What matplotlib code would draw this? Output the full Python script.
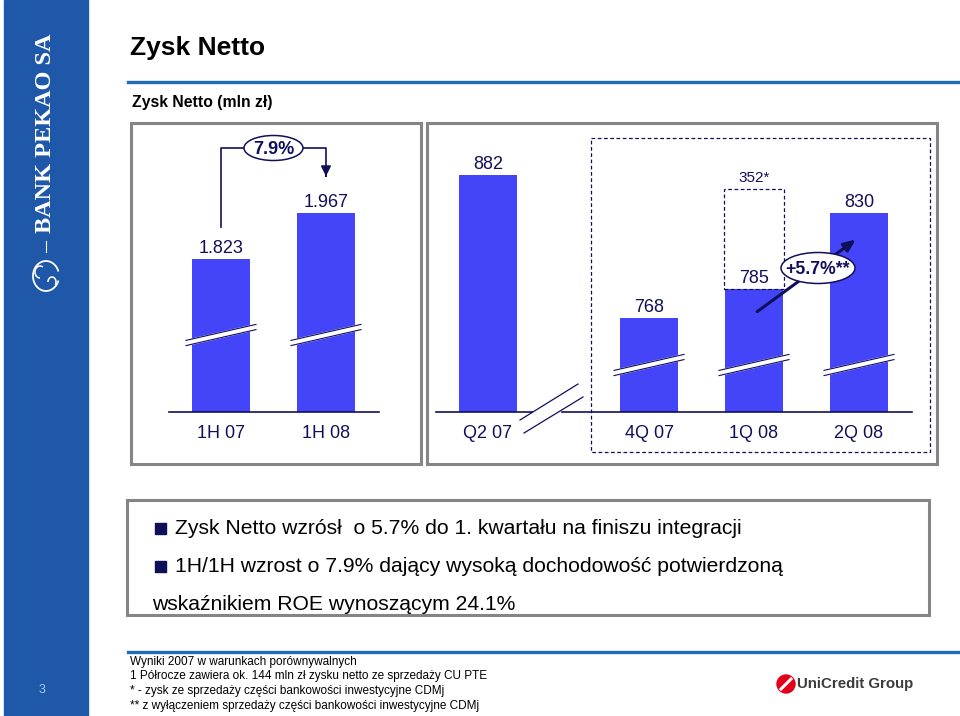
import matplotlib
matplotlib.use("Agg")
import matplotlib.pyplot as plt
from matplotlib.patches import Rectangle, Ellipse, Polygon, Circle, Arc

plt.rcParams['font.family'] = ['Liberation Sans', 'DejaVu Sans']

W, H = 960, 716

# --- dane (mln zł) ---
half_labels = ['1H 07', '1H 08']
half_values = [1823, 1967]
half_text = ['1.823', '1.967']
half_growth = '7.9%'

q2_labels = ['Q2 07']
q2_values = [882]
q2_text = ['882']

q_labels = ['4Q 07', '1Q 08', '2Q 08']
q_values = [768, 785, 830]
q_text = ['768', '785', '830']
cdmj_text = '352*'
cdmj_top = 844      # gorna krawedz przerywanego prostokata (w skali wykresu)
q_growth = '+5.7%**'

bullets = ['Zysk Netto wzrósł  o 5.7% do 1. kwartału na finiszu integracji',
           '1H/1H wzrost o 7.9% dający wysoką dochodowość potwierdzoną']
bullet_tail = 'wskaźnikiem ROE wynoszącym 24.1%'
footnotes = ['Wyniki 2007 w warunkach porównywalnych',
             '1 Półrocze zawiera ok. 144 mln zł zysku netto ze sprzedaży CU PTE',
             '* - zysk ze sprzedaży części bankowości inwestycyjne CDMj',
             '** z wyłączeniem sprzedaży części bankowości inwestycyjne CDMj']

BAR = '#4444F8'
NAVY = '#10105a'
FRAME = '#858585'
SIDE = '#1f58a8'
LINE = '#1f6db5'

fig = plt.figure(figsize=(W / 100, H / 100), dpi=100)


def px_layer():
    ax = fig.add_axes([0, 0, 1, 1])
    ax.set_xlim(0, W)
    ax.set_ylim(H, 0)
    ax.axis('off')
    ax.patch.set_alpha(0)
    return ax


def bar_axes(x0, x1, xlim, ylim):
    base, top = 412, 130
    ax = fig.add_axes([x0 / W, 1 - base / H, (x1 - x0) / W, (base - top) / H])
    ax.set_xlim(xlim)
    ax.set_ylim(ylim)
    ax.patch.set_alpha(0)
    for s in ['top', 'right', 'left']:
        ax.spines[s].set_visible(False)
    ax.spines['bottom'].set_color(NAVY)
    ax.spines['bottom'].set_linewidth(1.2)
    ax.set_yticks([])
    ax.tick_params(axis='x', length=0, pad=9, labelsize=13, labelcolor=NAVY)
    return ax


def value_labels(ax, xs, vals, texts):
    for x, v, t in zip(xs, vals, texts):
        ax.annotate(t, (x, v), xytext=(0, 4.5), textcoords='offset points',
                    ha='center', va='baseline', fontsize=13, color=NAVY)


bg = px_layer()

# pasek boczny
bg.add_patch(Rectangle((4, 0), 84, 716, color=SIDE))
bg.text(46, 133, 'BANK PEKAO SA', rotation=90, ha='center', va='center',
        color='white', fontsize=17.5, fontweight='bold', family='Liberation Serif')
bg.plot([46, 46], [241, 252], color='white', lw=0.8)
bg.add_patch(Arc((46, 276), 26, 30, theta1=20, theta2=340, color='white', lw=1.3))
bg.add_patch(Arc((40, 272), 10, 12, theta1=90, theta2=300, color='white', lw=1.1))
bg.add_patch(Arc((52, 282), 8, 10, theta1=180, theta2=400, color='white', lw=1.1))
bg.text(42, 690, '3', ha='center', va='center', color='#a9c9f2', fontsize=9)

# naglowki
bg.text(130, 48, 'Zysk Netto', fontsize=19, fontweight='bold', va='center')
bg.plot([128, 960], [82, 82], color=LINE, lw=2.4)
bg.text(132, 103, 'Zysk Netto (mln zł)', fontsize=11.3, fontweight='bold', va='center')

# ramki
bg.add_patch(Rectangle((131, 123), 290, 341, fill=False, ec=FRAME, lw=2.2))
bg.add_patch(Rectangle((427, 123), 510, 341, fill=False, ec=FRAME, lw=2.2))
bg.add_patch(Rectangle((591, 138), 339, 314, fill=False, ec=NAVY, lw=0.9, ls=(0, (3, 2))))
bg.add_patch(Rectangle((127, 500), 802, 115, fill=False, ec=FRAME, lw=2.2))

# wykres polroczny
ax_h = bar_axes(169, 379, (-0.495, 1.505), (1344, 2227))
xh = range(len(half_values))
ax_h.bar(xh, half_values, width=0.552, color=BAR)
ax_h.set_xticks(list(xh), half_labels)
value_labels(ax_h, xh, half_values, half_text)

# Q2 07
ax_q2 = bar_axes(436, 532, (-0.495, 0.419), (742, 908.5))
ax_q2.bar([0], q2_values, width=0.552, color=BAR)
ax_q2.set_xticks([0], q2_labels)
value_labels(ax_q2, [0], q2_values, q2_text)

# kwartaly
ax_q = bar_axes(562, 912, (-0.829, 2.505), (712.5, 879))
xq = range(len(q_values))
ax_q.bar(xq, q_values, width=0.552, color=BAR)
ax_q.bar(1, cdmj_top - q_values[1], bottom=q_values[1], width=0.57, fill=False,
         ec=NAVY, lw=0.9, ls=(0, (3, 2)))
ax_q.set_xticks(list(xq), q_labels)
value_labels(ax_q, xq, q_values, q_text)
ax_q.annotate(cdmj_text, (1, cdmj_top), xytext=(0, 5), textcoords='offset points',
              ha='center', va='baseline', fontsize=11, color=NAVY)

top = px_layer()


def to_px(ax, x, y):
    return top.transData.inverted().transform(ax.transData.transform((x, y)))


def break_mark(cx, cy):
    hw, sl, g = 35, 8, 2.6
    top.add_patch(Polygon([(cx - hw, cy + sl - g), (cx + hw, cy - sl - g),
                           (cx + hw, cy - sl + g), (cx - hw, cy + sl + g)],
                          closed=True, color='white', zorder=3))
    for d in (-g, g):
        top.plot([cx - hw, cx + hw], [cy + sl + d, cy - sl + d], color=NAVY, lw=0.8, zorder=4)


for x in xh:
    cx, _ = to_px(ax_h, x, 0)
    break_mark(cx, 335)
for x in xq:
    cx, _ = to_px(ax_q, x, 0)
    break_mark(cx, 365)

# przerwa osi miedzy Q2 07 a 4Q 07
top.plot([520, 578], [420, 384], color=NAVY, lw=0.9)
top.plot([524, 583], [433, 397], color=NAVY, lw=0.9)

# strzalka 7.9%
x1, y1 = to_px(ax_h, 0, half_values[0])
x2, y2 = to_px(ax_h, 1, half_values[1])
yb = 148
top.plot([x1, x1, x2, x2], [y1 - 32, yb, yb, y2 - 38], color=NAVY, lw=1.2)
top.annotate('', xy=(x2, y2 - 34), xytext=(x2, y2 - 40),
             arrowprops=dict(arrowstyle='-|>,head_width=0.3,head_length=0.6', color=NAVY, lw=1.2))
xm = (x1 + x2) / 2
top.add_patch(Ellipse((xm, yb), 59, 25, fc='white', ec=NAVY, lw=1.1, zorder=5))
top.text(xm, yb + 1, half_growth, ha='center', va='center', fontsize=13,
         fontweight='bold', color=NAVY, zorder=6)

# strzalka +5.7%
a0 = to_px(ax_q, 1, q_values[1])
a1 = to_px(ax_q, 2, q_values[2])
top.annotate('', xy=(a1[0] - 1, a1[1] + 25), xytext=(a0[0] + 1, a0[1] + 24),
             arrowprops=dict(arrowstyle='-|>,head_width=0.3,head_length=0.7', color=NAVY, lw=2.2))
top.add_patch(Ellipse((818, 268), 74, 31, fc='white', ec=NAVY, lw=1.1, zorder=5))
top.text(818, 269, q_growth, ha='center', va='center', fontsize=12.7,
         fontweight='bold', color=NAVY, zorder=6)

# punkty
for i, (t, y) in enumerate(zip(bullets, [529, 567])):
    top.add_patch(Rectangle((155, y - 6), 11, 11, color=NAVY))
    top.text(175, y, t, fontsize=15.2, va='center')
top.text(152, 605, bullet_tail, fontsize=15.2, va='center')

# stopka
top.plot([128, 960], [652, 652], color=LINE, lw=2.4)
for t, y in zip(footnotes, [662, 676.5, 691, 705.5]):
    top.text(130, y, t, fontsize=8.5, va='center')
top.add_patch(Circle((786, 684), 9, color='#e2001a'))
top.plot([781, 791], [689, 679], color='white', lw=2.2)
top.text(797, 684, 'UniCredit Group', fontsize=10.8, fontweight='bold', va='center',
         color='#3c3c3c')

fig.savefig('out.png', dpi=100)
